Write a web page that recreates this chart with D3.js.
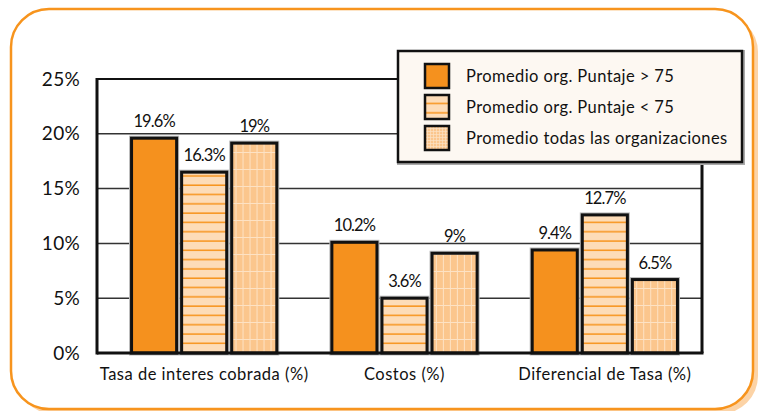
<!DOCTYPE html>
<html>
<head>
<meta charset="utf-8">
<script src="https://cdn.jsdelivr.net/npm/d3@7"></script>
<style>
  body { margin: 0; background: #fff; }
  svg { display: block; font-family: Lato, "DejaVu Sans", sans-serif; }
</style>
</head>
<body>
<div id="container"></div>
<script>
// data
var categories = ["Tasa de interes cobrada (%)", "Costos (%)", "Diferencial de Tasa (%)"];
var series = ["Promedio org. Puntaje > 75", "Promedio org. Puntaje < 75", "Promedio todas las organizaciones"];
var altoValues = [19.6, 10.1, 9.4];    // Puntaje > 75
var bajoValues = [16.5, 5.0, 12.6];    // Puntaje < 75
var todasValues = [19.15, 9.1, 6.7];   // todas
var altoLabels = ["19.6%", "10.2%", "9.4%"];
var bajoLabels = ["16.3%", "3.6%", "12.7%"];
var todasLabels = ["19%", "9%", "6.5%"];
var yTicks = [0, 5, 10, 15, 20, 25];

var width = 759, height = 411;
var svg = d3.select("#container").append("svg")
  .attr("width", width).attr("height", height);

var defs = svg.append("defs");

// horizontal stripes
var p1 = defs.append("pattern").attr("id", "stripes")
  .attr("patternUnits", "userSpaceOnUse").attr("width", 10).attr("height", 9.3);
p1.append("rect").attr("width", 10).attr("height", 9.3).attr("fill", "#fddcb8");
p1.append("rect").attr("y", 7.8).attr("width", 10).attr("height", 1.5).attr("fill", "#f7941d");

// grid
var p2 = defs.append("pattern").attr("id", "grid")
  .attr("patternUnits", "userSpaceOnUse").attr("width", 7).attr("height", 17);
p2.append("rect").attr("width", 7).attr("height", 17).attr("fill", "#fbc68d");
p2.append("rect").attr("x", 6).attr("width", 1.2).attr("height", 17).attr("fill", "#fde2c4");
p2.append("rect").attr("y", 16).attr("width", 7).attr("height", 1.2).attr("fill", "#fde2c4");

// small grid for legend swatch
var p3 = defs.append("pattern").attr("id", "gridSmall")
  .attr("patternUnits", "userSpaceOnUse").attr("width", 3).attr("height", 3);
p3.append("rect").attr("width", 3).attr("height", 3).attr("fill", "#fbc68d");
p3.append("rect").attr("x", 2.3).attr("width", 0.7).attr("height", 3).attr("fill", "#fde2c4");
p3.append("rect").attr("y", 2.3).attr("width", 3).attr("height", 0.7).attr("fill", "#fde2c4");

var fills = ["#f5911e", "url(#stripes)", "url(#grid)"];
var legendFills = ["#f5911e", "url(#stripes)", "url(#gridSmall)"];

// outer frame with shadow
svg.append("rect").attr("x", 16).attr("y", 14).attr("width", 742).attr("height", 400)
  .attr("rx", 38).attr("fill", "#fcd3a6");
svg.append("rect").attr("x", 11).attr("y", 9).attr("width", 742).attr("height", 400)
  .attr("rx", 38).attr("fill", "#fff").attr("stroke", "#f7941d").attr("stroke-width", 2.5);

var plot = { left: 97, right: 702, top: 79, bottom: 353 };

var y = d3.scaleLinear().domain([0, 25]).range([plot.bottom, plot.top]);
var x0 = d3.scaleBand().domain(categories).range([104, 705])
  .paddingInner(0.275).paddingOuter(0.1375);
var x1 = d3.scaleBand().domain(d3.range(3)).range([0, x0.bandwidth()])
  .paddingInner(0.1).paddingOuter(0);

// gridlines
svg.append("g").selectAll("line")
  .data(yTicks.filter(function(d) { return d > 0 && d < 25; }))
  .enter().append("line")
  .attr("x1", plot.left).attr("x2", plot.right)
  .attr("y1", function(d) { return y(d); })
  .attr("y2", function(d) { return y(d); })
  .attr("stroke", "#333").attr("stroke-width", 1.5);

// top line
svg.append("line").attr("x1", plot.left).attr("x2", plot.right)
  .attr("y1", y(25)).attr("y2", y(25)).attr("stroke", "#111").attr("stroke-width", 2.2);
// right line
svg.append("line").attr("x1", plot.right).attr("x2", plot.right)
  .attr("y1", y(25)).attr("y2", plot.bottom).attr("stroke", "#111").attr("stroke-width", 3);

// y axis labels
var yAxis = d3.axisLeft(y).tickValues(yTicks).tickSize(0).tickPadding(17)
  .tickFormat(function(d) { return d + "%"; });
var yg = svg.append("g").attr("transform", "translate(" + plot.left + ",0)").call(yAxis);
yg.select(".domain").remove();
yg.selectAll("text").attr("font-size", 19).attr("letter-spacing", 0.3).attr("fill", "#111")
  .attr("font-family", "Lato, sans-serif");

// bars
var rows = categories.map(function(c, i) {
  return {
    cat: c,
    vals: [altoValues[i], bajoValues[i], todasValues[i]],
    labels: [altoLabels[i], bajoLabels[i], todasLabels[i]]
  };
});

var group = svg.append("g").selectAll("g").data(rows).enter().append("g")
  .attr("transform", function(d) { return "translate(" + x0(d.cat) + ",0)"; });

var bar = group.selectAll("g").data(function(d) {
  return d.vals.map(function(v, k) { return { k: k, v: v, label: d.labels[k] }; });
}).enter().append("g");

bar.append("rect")
  .attr("x", function(d) { return x1(d.k); })
  .attr("y", function(d) { return y(d.v); })
  .attr("width", x1.bandwidth())
  .attr("height", function(d) { return plot.bottom - y(d.v); })
  .attr("fill", "none").attr("stroke", "#bbb").attr("stroke-width", 5);

bar.append("rect")
  .attr("x", function(d) { return x1(d.k); })
  .attr("y", function(d) { return y(d.v); })
  .attr("width", x1.bandwidth())
  .attr("height", function(d) { return plot.bottom - y(d.v); })
  .attr("fill", function(d) { return fills[d.k]; })
  .attr("stroke", "#111").attr("stroke-width", 3);

bar.append("text")
  .attr("x", function(d) { return x1(d.k) + x1.bandwidth() / 2; })
  .attr("y", function(d) { return y(d.v) - 11; })
  .attr("text-anchor", "middle")
  .attr("font-size", 16.5).attr("letter-spacing", -0.9).attr("fill", "#111")
  .text(function(d) { return d.label; });

// left and bottom axis lines
svg.append("line").attr("x1", plot.left).attr("x2", plot.left)
  .attr("y1", y(25) - 1).attr("y2", plot.bottom + 1.5).attr("stroke", "#111").attr("stroke-width", 3);
svg.append("line").attr("x1", plot.left).attr("x2", plot.right + 1.5)
  .attr("y1", plot.bottom).attr("y2", plot.bottom).attr("stroke", "#111").attr("stroke-width", 3);

// category labels
var xAxis = d3.axisBottom(x0).tickSize(0).tickPadding(15);
var xg = svg.append("g").attr("transform", "translate(0," + plot.bottom + ")").call(xAxis);
xg.select(".domain").remove();
xg.selectAll("text").attr("font-size", 16.5).attr("letter-spacing", 0.5).attr("fill", "#111")
  .attr("font-family", "Lato, sans-serif");

// legend
var legend = svg.append("g").attr("transform", "translate(398,51)");
legend.append("rect").attr("x", 1).attr("y", 1).attr("width", 344).attr("height", 111)
  .attr("fill", "none").attr("stroke", "#aaa").attr("stroke-width", 4);
legend.append("rect").attr("width", 344).attr("height", 111)
  .attr("fill", "#fdf8f2").attr("stroke", "#111").attr("stroke-width", 2.5);

var item = legend.selectAll(".item").data(series).enter().append("g")
  .attr("class", "item")
  .attr("transform", function(d, i) { return "translate(27," + (13 + i * 31) + ")"; });
item.append("rect").attr("width", 24).attr("height", 24)
  .attr("fill", function(d, i) { return legendFills[i]; })
  .attr("stroke", "#111").attr("stroke-width", 2.5);
item.append("text").attr("x", 41).attr("y", 18)
  .attr("font-size", 16.5).attr("letter-spacing", 0.4).attr("fill", "#111")
  .text(function(d) { return d; });
</script>
</body>
</html>
